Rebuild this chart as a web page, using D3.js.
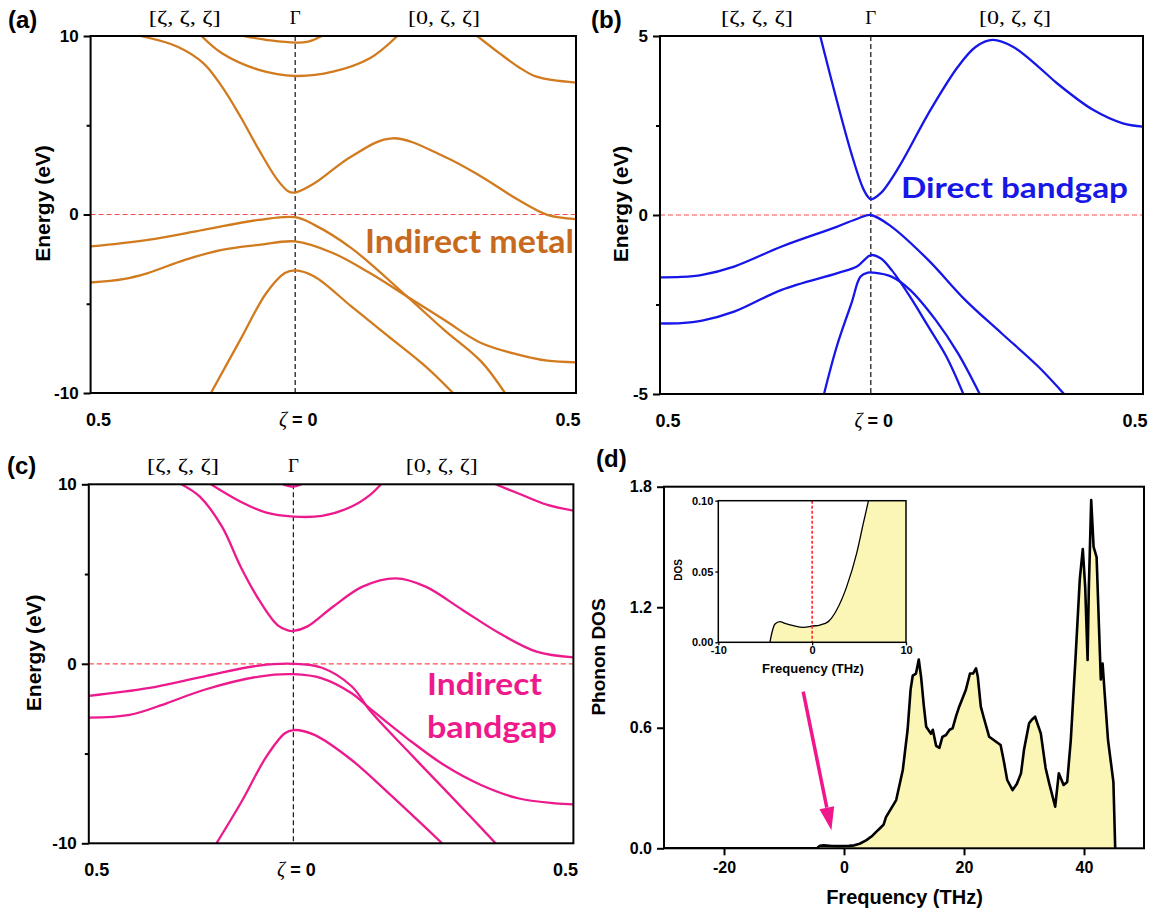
<!DOCTYPE html>
<html>
<head>
<meta charset="utf-8">
<script src="https://cdn.jsdelivr.net/npm/d3@7"></script>
<style>
  body { margin: 0; background: #fff; }
  svg { display: block; }
</style>
</head>
<body>
<svg id="chart" width="1155" height="913"></svg>
<script>
// ---------------- DATA ----------------
// k-path: negative zeta = [zeta,zeta,zeta] branch, positive zeta = [0,zeta,zeta] branch
const kTickValues = [-0.5, 0, 0.5];
const kTickLabels = ["0.5", "ζ = 0", "0.5"];
const pathLabelValues = [-0.27, 0, 0.265];
const pathLabels = ["[ζ, ζ, ζ]", "Γ", "[0, ζ, ζ]"];

// (a) bands [zeta, energy eV]
const bandsA = [
  [[-0.125,10],[-0.06,9.75],[0,9.63],[0.025,9.7],[0.047,10]],
  [[-0.229,10],[-0.179,9.03],[-0.0886,8.10],[0,7.76],[0.0672,8.0],[0.133,8.75],[0.182,10]],
  [[-0.378,10],[-0.2875,9.40],[-0.224,8.47],[-0.179,7.16],[-0.134,5.49],[-0.0886,3.62],[-0.0434,1.94],[-0.0163,1.29],[0,1.23],[0.0343,1.75],[0.100,3.25],[0.1726,4.27],[0.265,3.25],[0.331,2.13],[0.397,0.82],[0.449,-0.02],[0.5,-0.26]],
  [[0.324,10],[0.364,9.03],[0.397,8.28],[0.4295,7.72],[0.5,7.39]],
  [[-0.5,-1.79],[-0.36,-1.42],[-0.224,-0.86],[-0.0886,-0.30],[0,-0.15],[0.034,-0.58],[0.100,-1.88],[0.199,-4.59],[0.265,-6.46],[0.331,-8.23],[0.3735,-10]],
  [[-0.5,-3.81],[-0.42,-3.62],[-0.36,-3.28],[-0.2695,-2.54],[-0.179,-1.98],[-0.0886,-1.70],[0,-1.51],[0.067,-2.16],[0.133,-3.28],[0.199,-4.59],[0.265,-5.90],[0.331,-7.20],[0.397,-7.85],[0.449,-8.19],[0.5,-8.28]],
  [[-0.206,-10],[-0.134,-7.01],[-0.0705,-4.40],[-0.0253,-3.28],[0,-3.13],[0.034,-3.47],[0.100,-5.15],[0.166,-6.83],[0.232,-8.51],[0.281,-10]]
];

// (b) bands
const bandsB = [
  [[-0.12,5],[-0.0809,3.21],[-0.0461,1.72],[-0.02,0.79],[-0.007,0.51],[0,0.44],[0.0182,0.61],[0.052,1.35],[0.106,2.84],[0.16,4.14],[0.193,4.70],[0.224,4.89],[0.261,4.70],[0.308,4.14],[0.342,3.68],[0.409,2.93],[0.463,2.56],[0.5,2.47]],
  [[-0.5,-1.74],[-0.45,-1.73],[-0.40,-1.67],[-0.3243,-1.44],[-0.2113,-0.88],[-0.0809,-0.33],[-0.0287,-0.09],[0,0],[0.0384,-0.33],[0.1058,-1.26],[0.1732,-2.37],[0.2406,-3.31],[0.308,-4.24],[0.355,-5]],
  [[-0.5,-3.03],[-0.45,-3.02],[-0.40,-2.95],[-0.3243,-2.70],[-0.2113,-2.09],[-0.0809,-1.63],[-0.033,-1.44],[-0.0157,-1.26],[0,-1.12],[0.018,-1.21],[0.0384,-1.54],[0.072,-2.28],[0.1058,-3.12],[0.139,-3.96],[0.17,-5]],
  [[-0.111,-5],[-0.0809,-3.68],[-0.046,-2.47],[-0.0243,-1.72],[-0.007,-1.61],[0.005,-1.61],[0.038,-1.72],[0.072,-2.09],[0.119,-2.93],[0.16,-3.86],[0.2,-5]]
];

// (c) bands
const bandsC = [
  [[-0.025,10],[0,9.87],[0.0145,10]],
  [[-0.2016,10],[-0.129,9.03],[-0.066,8.42],[0,8.20],[0.051,8.24],[0.104,8.76],[0.137,9.41],[0.1565,10]],
  [[-0.274,10],[-0.2287,9.31],[-0.1745,7.64],[-0.129,5.41],[-0.084,3.56],[-0.039,2.16],[-0.0118,1.85],[0,1.83],[0.0244,2.07],[0.0707,3.18],[0.1235,4.30],[0.183,4.76],[0.236,4.30],[0.302,3.0],[0.368,1.70],[0.434,0.68],[0.5,0.36]],
  [[0.361,10],[0.401,9.50],[0.4538,8.85],[0.5,8.53]],
  [[-0.5,-1.79],[-0.3553,-1.36],[-0.2197,-0.71],[-0.084,-0.10],[0,0],[0.051,-0.22],[0.104,-1.25],[0.137,-2.62],[0.203,-4.82],[0.269,-6.97],[0.322,-8.70],[0.361,-10]],
  [[-0.5,-3.0],[-0.4005,-2.85],[-0.31,-2.20],[-0.2197,-1.46],[-0.084,-0.71],[0,-0.58],[0.051,-0.81],[0.104,-1.64],[0.137,-2.50],[0.203,-4.15],[0.269,-5.64],[0.335,-6.75],[0.401,-7.49],[0.467,-7.77],[0.5,-7.83]],
  [[-0.188,-10],[-0.129,-7.77],[-0.066,-5.17],[-0.0208,-3.87],[0,-3.69],[0.0376,-3.96],[0.104,-5.36],[0.17,-7.21],[0.2655,-10]]
];

const energyTicksAC = [-10, 0, 10];
const energyMinorAC = [-5, 5];
const energyTicksB = [-5, 0, 5];
const energyMinorB = [-2.5, 2.5];

// (d) phonon DOS [frequency THz, DOS]
const phononDOS = [
  [-4.5,0],[-4.3,0.0064],[-3.96,0.0129],[-3.43,0.0146],[-2.9,0.0134],[-2.0,0.0118],[-0.94,0.0106],
  [0.05,0.0115],[0.83,0.0122],[1.72,0.0146],[2.61,0.0228],[3.68,0.0393],[4.74,0.0628],[5.45,0.084],
  [6.0,0.1],[6.6,0.118],[7.0,0.155],[8.1,0.21],[8.7,0.24],[9.8,0.39],[10.6,0.59],[11.1,0.79],
  [11.46,0.86],[12.0,0.87],[12.46,0.94],[12.86,0.85],[13.3,0.71],[13.7,0.605],[14.5,0.57],[14.8,0.59],
  [15.35,0.51],[15.9,0.50],[16.4,0.555],[17.0,0.564],[17.6,0.59],[18.1,0.597],[18.7,0.66],[19.2,0.705],
  [20.3,0.788],[21.0,0.87],[21.5,0.87],[22.0,0.896],[22.3,0.855],[22.8,0.705],[23.3,0.65],[24.2,0.555],
  [26.1,0.514],[26.6,0.44],[27.2,0.34],[28.1,0.29],[28.8,0.32],[29.5,0.373],[30.0,0.49],[30.85,0.622],
  [31.3,0.64],[31.85,0.655],[32.8,0.572],[33.6,0.40],[34.2,0.323],[35.2,0.207],[35.8,0.373],[36.6,0.315],
  [37.2,0.33],[37.8,0.539],[38.6,0.954],[39.3,1.34],[39.8,1.49],[40.2,1.30],[40.6,0.937],[40.8,1.29],
  [41.2,1.734],[41.6,1.50],[42.1,1.45],[42.5,1.10],[42.8,0.84],[43.1,0.92],[43.4,0.79],[44.0,0.54],
  [44.9,0.33],[45.2,0]
];
const freqTicks = [-20, 0, 20, 40];
const dosTicks = [0, 0.6, 1.2, 1.8];
const insetFreqTicks = [-10, 0, 10];
const insetDosTicks = [0, 0.05, 0.1];
// arrow annotation in data units [frequency, DOS]
const arrowFrom = [-6.8, 0.78];
const arrowTo = [-2.1, 0.09];

// ---------------- STYLE / LAYOUT ----------------
const SANS = "'Liberation Sans', Arial, sans-serif";
const SERIF = "'Liberation Serif', 'Times New Roman', serif";
const NOTE = "Lato, 'Open Sans', sans-serif";
const svg = d3.select("#chart");

function styleAxis(sel, fontSize) {
  sel.select(".domain").remove();
  sel.selectAll(".tick line").attr("stroke", "#000").attr("stroke-width", 2);
  sel.selectAll(".tick text")
    .attr("fill", "#000")
    .style("font-family", SANS)
    .style("font-weight", "bold")
    .style("font-size", fontSize + "px");
}

function bandPanel(cfg) {
  const g = svg.append("g");
  const x = d3.scaleLinear().domain([-0.5, 0, 0.5]).range([cfg.x0, cfg.xG, cfg.x1]);
  const y = d3.scaleLinear().domain(cfg.yDomain).range([cfg.yBot, cfg.yTop]);

  const clipId = "clip-" + cfg.id;
  svg.append("clipPath").attr("id", clipId).append("rect")
    .attr("x", cfg.x0).attr("y", cfg.yTop)
    .attr("width", cfg.x1 - cfg.x0).attr("height", cfg.yBot - cfg.yTop);
  const plot = g.append("g").attr("clip-path", `url(#${clipId})`);

  plot.append("line")
    .attr("x1", cfg.x0).attr("x2", cfg.x1).attr("y1", y(0)).attr("y2", y(0))
    .attr("stroke", "#ff4d4d").attr("stroke-width", 1.2).attr("stroke-dasharray", "5,3");
  plot.append("line")
    .attr("x1", x(0)).attr("x2", x(0)).attr("y1", cfg.yTop).attr("y2", cfg.yBot)
    .attr("stroke", "#222").attr("stroke-width", 1.3).attr("stroke-dasharray", "5,3");

  const line = d3.line().x(d => x(d[0])).y(d => y(d[1])).curve(d3.curveCatmullRom.alpha(0.5));
  plot.selectAll("path.band").data(cfg.bands).join("path")
    .attr("class", "band")
    .attr("d", line)
    .attr("fill", "none")
    .attr("stroke", cfg.color)
    .attr("stroke-width", 2.3)
    .attr("stroke-linejoin", "round");

  // minor ticks
  const minor = g.append("g").attr("transform", `translate(${cfg.x0},0)`)
    .call(d3.axisLeft(y).tickValues(cfg.yMinor).tickSize(4).tickFormat(""));
  styleAxis(minor, 16);
  // major ticks
  const major = g.append("g").attr("transform", `translate(${cfg.x0},0)`)
    .call(d3.axisLeft(y).tickValues(cfg.yTicks).tickSize(7).tickPadding(5).tickFormat(d => String(d)));
  styleAxis(major, 17);

  g.append("rect")
    .attr("x", cfg.x0).attr("y", cfg.yTop)
    .attr("width", cfg.x1 - cfg.x0).attr("height", cfg.yBot - cfg.yTop)
    .attr("fill", "none").attr("stroke", "#000").attr("stroke-width", 2);

  // bottom k labels
  const offs = [8, 3, -8];
  kTickValues.forEach((v, i) => {
    const t = g.append("text")
      .attr("x", x(v) + offs[i]).attr("y", cfg.yBot + 33)
      .attr("text-anchor", "middle")
      .style("font-family", SANS).style("font-weight", "bold").style("font-size", "18px");
    if (kTickLabels[i].startsWith("ζ")) {
      t.append("tspan").style("font-family", SERIF).style("font-style", "italic")
        .style("font-weight", "normal").style("font-size", "20px").text("ζ");
      t.append("tspan").text(kTickLabels[i].slice(1));
    } else {
      t.text(kTickLabels[i]);
    }
  });

  // top path labels
  pathLabelValues.forEach((v, i) => {
    const t = g.append("text")
      .attr("x", x(v)).attr("y", cfg.yTop - 12)
      .attr("text-anchor", "middle")
      .style("font-family", SERIF).style("font-size", "19px")
      .text(pathLabels[i]);
    if (i !== 1) t.attr("textLength", 72).attr("lengthAdjust", "spacingAndGlyphs");
  });

  // y title
  g.append("text")
    .attr("transform", `translate(${cfg.titleX},${(cfg.yTop + cfg.yBot) / 2 - 11}) rotate(-90)`)
    .attr("text-anchor", "middle").attr("dominant-baseline", "central")
    .style("font-family", SANS).style("font-weight", "bold").style("font-size", "21px")
    .text("Energy (eV)");

  // panel tag
  g.append("text").attr("x", cfg.tagX).attr("y", cfg.tagY)
    .style("font-family", SANS).style("font-weight", "bold").style("font-size", "24px")
    .text(cfg.tag);

  // annotation
  cfg.note.lines.forEach((s, i) => {
    g.append("text")
      .attr("x", cfg.note.x).attr("y", cfg.note.y + i * cfg.note.dy)
      .attr("fill", cfg.noteColor)
      .attr("textLength", cfg.note.widths[i]).attr("lengthAdjust", "spacingAndGlyphs")
      .style("font-family", NOTE).style("font-weight", "bold").style("font-size", cfg.note.size + "px")
      .text(s);
  });
}

bandPanel({
  id: "a", tag: "(a)", tagX: 8, tagY: 28,
  x0: 90.6, xG: 295.2, x1: 576, yTop: 36, yBot: 393,
  yDomain: [-10, 10], yTicks: energyTicksAC, yMinor: energyMinorAC,
  bands: bandsA, color: "#D17A1E", noteColor: "#C86A1E", titleX: 42,
  note: { lines: ["Indirect metal"], x: 365, y: 253, dy: 0, widths: [209], size: 32 }
});
bandPanel({
  id: "b", tag: "(b)", tagX: 591, tagY: 28,
  x0: 660, xG: 870.8, x1: 1143, yTop: 36, yBot: 394,
  yDomain: [-5, 5], yTicks: energyTicksB, yMinor: energyMinorB,
  bands: bandsB, color: "#1616E8", noteColor: "#1818E6", titleX: 620,
  note: { lines: ["Direct bandgap"], x: 901, y: 198, dy: 0, widths: [227], size: 29 }
});
bandPanel({
  id: "c", tag: "(c)", tagX: 7, tagY: 474,
  x0: 88.8, xG: 293.4, x1: 573.4, yTop: 484.3, yBot: 843.3,
  yDomain: [-10, 10], yTicks: energyTicksAC, yMinor: energyMinorAC,
  bands: bandsC, color: "#EC1A8C", noteColor: "#EE1A8C", titleX: 33,
  note: { lines: ["Indirect", "bandgap"], x: 427, y: 695, dy: 43, widths: [115, 130], size: 30 }
});

// ---------------- PANEL (d) ----------------
(function () {
  const P = { x0: 664, x1: 1144, yTop: 486.7, yBot: 848.3 };
  const g = svg.append("g");
  const x = d3.scaleLinear().domain([-30, 50]).range([P.x0, P.x1]);
  const y = d3.scaleLinear().domain([0, 1.8]).range([P.yBot, P.yTop]);

  svg.append("clipPath").attr("id", "clip-d").append("rect")
    .attr("x", P.x0).attr("y", P.yTop).attr("width", P.x1 - P.x0).attr("height", P.yBot - P.yTop);
  const plot = g.append("g").attr("clip-path", "url(#clip-d)");

  const area = d3.area().x(d => x(d[0])).y0(y(0)).y1(d => y(d[1]));
  const line = d3.line().x(d => x(d[0])).y(d => y(d[1]));
  plot.append("path").datum(phononDOS).attr("d", area).attr("fill", "#FBF6B6");
  plot.append("line").attr("x1", P.x0).attr("x2", x(phononDOS[0][0]))
    .attr("y1", y(0)).attr("y2", y(0)).attr("stroke", "#000").attr("stroke-width", 2.6);
  plot.append("path").datum(phononDOS).attr("d", line)
    .attr("fill", "none").attr("stroke", "#000").attr("stroke-width", 2.6).attr("stroke-linejoin", "round");

  const ax = g.append("g").attr("transform", `translate(${P.x0},0)`)
    .call(d3.axisLeft(y).tickValues(dosTicks).tickSize(7).tickPadding(5).tickFormat(d3.format(".1f")));
  styleAxis(ax, 16);
  const bx = g.append("g").attr("transform", `translate(0,${P.yBot})`)
    .call(d3.axisBottom(x).tickValues(freqTicks).tickSize(7).tickPadding(6).tickFormat(d => String(d)));
  styleAxis(bx, 16);

  g.append("rect").attr("x", P.x0).attr("y", P.yTop)
    .attr("width", P.x1 - P.x0).attr("height", P.yBot - P.yTop)
    .attr("fill", "none").attr("stroke", "#000").attr("stroke-width", 2);

  g.append("text").attr("x", (P.x0 + P.x1) / 2 + 0.5).attr("y", 904)
    .attr("text-anchor", "middle")
    .style("font-family", SANS).style("font-weight", "bold").style("font-size", "20px")
    .text("Frequency (THz)");
  g.append("text")
    .attr("transform", `translate(598,657) rotate(-90)`)
    .attr("text-anchor", "middle").attr("dominant-baseline", "central")
    .style("font-family", SANS).style("font-weight", "bold").style("font-size", "19px")
    .text("Phonon DOS");
  g.append("text").attr("x", 596).attr("y", 467)
    .style("font-family", SANS).style("font-weight", "bold").style("font-size", "24px")
    .text("(d)");

  // arrow
  const ax0 = x(arrowFrom[0]), ay0 = y(arrowFrom[1]);
  const ax1 = x(arrowTo[0]), ay1 = y(arrowTo[1]);
  const ang = Math.atan2(ay1 - ay0, ax1 - ax0);
  const headL = 23, headW = 7.5;
  const bxp = ax1 - headL * Math.cos(ang), byp = ay1 - headL * Math.sin(ang);
  g.append("line").attr("x1", ax0).attr("y1", ay0).attr("x2", bxp).attr("y2", byp)
    .attr("stroke", "#F0168C").attr("stroke-width", 3.5);
  g.append("path")
    .attr("d", `M${ax1},${ay1} L${bxp - headW * Math.sin(ang)},${byp + headW * Math.cos(ang)} L${bxp + headW * Math.sin(ang)},${byp - headW * Math.cos(ang)} Z`)
    .attr("fill", "#F0168C");

  // inset
  const I = { x0: 718.3, x1: 906, yTop: 500.7, yBot: 642.3 };
  const ix = d3.scaleLinear().domain([-10, 10]).range([I.x0, I.x1]);
  const iy = d3.scaleLinear().domain([0, 0.1]).range([I.yBot, I.yTop]);
  svg.append("clipPath").attr("id", "clip-inset").append("rect")
    .attr("x", I.x0).attr("y", I.yTop).attr("width", I.x1 - I.x0).attr("height", I.yBot - I.yTop);
  const ig = g.append("g");
  ig.append("rect").attr("x", I.x0).attr("y", I.yTop)
    .attr("width", I.x1 - I.x0).attr("height", I.yBot - I.yTop).attr("fill", "#fff");
  const ip = ig.append("g").attr("clip-path", "url(#clip-inset)");
  const iArea = d3.area().x(d => ix(d[0])).y0(iy(0)).y1(d => iy(d[1])).curve(d3.curveMonotoneX);
  const iLine = d3.line().x(d => ix(d[0])).y(d => iy(d[1])).curve(d3.curveMonotoneX);
  ip.append("path").datum(phononDOS).attr("d", iArea).attr("fill", "#FBF6B6");
  ip.append("path").datum(phononDOS).attr("d", iLine)
    .attr("fill", "none").attr("stroke", "#000").attr("stroke-width", 1.3);
  ip.append("line").attr("x1", ix(0)).attr("x2", ix(0)).attr("y1", I.yTop).attr("y2", I.yBot)
    .attr("stroke", "#ff2a2a").attr("stroke-width", 1.6).attr("stroke-dasharray", "3,2");

  const iax = ig.append("g").attr("transform", `translate(${I.x0},0)`)
    .call(d3.axisLeft(iy).tickValues(insetDosTicks).tickSize(3).tickPadding(2).tickFormat(d3.format(".2f")));
  styleAxis(iax, 11);
  iax.selectAll(".tick line").attr("stroke-width", 1.3);
  const ibx = ig.append("g").attr("transform", `translate(0,${I.yBot})`)
    .call(d3.axisBottom(ix).tickValues(insetFreqTicks).tickSize(3).tickPadding(1).tickFormat(d => String(d)));
  styleAxis(ibx, 11);
  ibx.selectAll(".tick line").attr("stroke-width", 1.3);
  ig.append("rect").attr("x", I.x0).attr("y", I.yTop)
    .attr("width", I.x1 - I.x0).attr("height", I.yBot - I.yTop)
    .attr("fill", "none").attr("stroke", "#000").attr("stroke-width", 1.5);
  ig.append("text").attr("x", 813).attr("y", 673)
    .attr("text-anchor", "middle")
    .style("font-family", SANS).style("font-weight", "bold").style("font-size", "13px")
    .text("Frequency (THz)");
  ig.append("text")
    .attr("transform", `translate(678,570) rotate(-90)`)
    .attr("text-anchor", "middle").attr("dominant-baseline", "central")
    .style("font-family", SANS).style("font-weight", "bold").style("font-size", "10px")
    .text("DOS");
})();
</script>
</body>
</html>
